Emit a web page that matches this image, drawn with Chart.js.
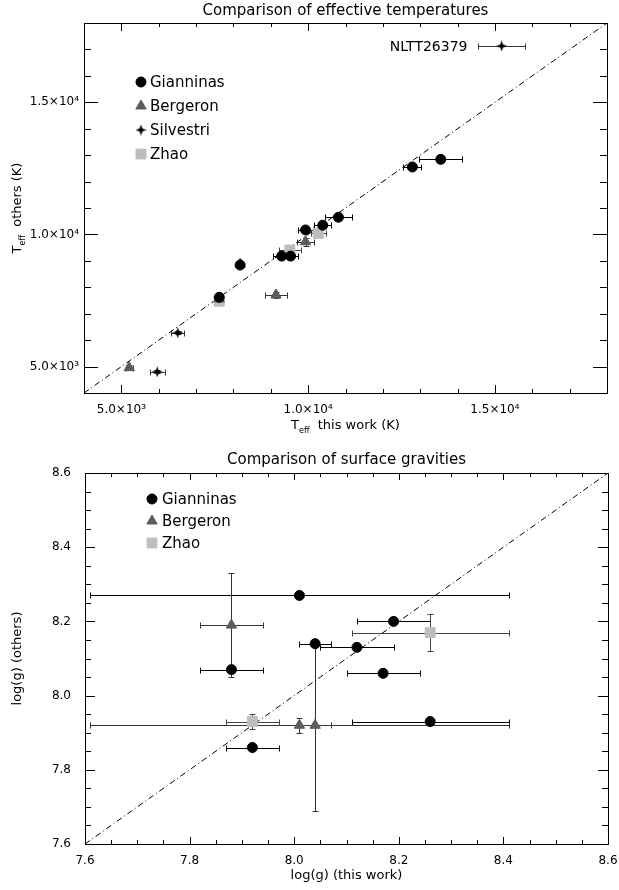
<!DOCTYPE html>
<html>
<head>
<meta charset="utf-8">
<script src="https://cdn.jsdelivr.net/npm/chart.js@4.4.0/dist/chart.umd.min.js"></script>
<style>
    html, body { margin: 0; padding: 0; background: #fff; }
    canvas { display: block; }
</style>
</head>
<body>
<canvas id="teffChart" width="619" height="445"></canvas>
<canvas id="loggChart" width="619" height="445"></canvas>
<script>
// ---- Effective temperatures (K) ----
const teffSeries = ['Gianninas', 'Bergeron', 'Silvestri', 'Zhao'];
const teffTicks = [5000, 10000, 15000];
const teffTickLabels = ['5.0×10³', '1.0×10⁴', '1.5×10⁴'];
const teffNote = 'NLTT26379';

const giaTeffX = [13550, 12790, 10810, 10390, 9930, 9290, 9530, 8180, 7620];
const giaTeffY = [12840, 12550, 10650, 10350, 10170, 9180, 9180, 8840, 7620];
const giaTeffErrX = [580, 240, 370, 220, 210, 240, 200, 0, 0];
const giaTeffErrY = [0, 0, 0, 0, 0, 0, 0, 0, 0];

const berTeffX = [9930, 9140, 8180, 7620, 5210];
const berTeffY = [9720, 7710, 8880, 7560, 4960];
const berTeffErrX = [230, 290, 0, 0, 90];
const berTeffErrY = [150, 100, 0, 0, 100];

const silTeffX = [15180, 6510, 5960];
const silTeffY = [17130, 6280, 4800];
const silTeffErrX = [620, 180, 200];
const silTeffErrY = [0, 60, 60];

const zhaoTeffX = [10270, 9510, 7620];
const zhaoTeffY = [10040, 9410, 7470];
const zhaoTeffErrX = [200, 300, 0];
const zhaoTeffErrY = [0, 0, 0];

// ---- Surface gravities log(g) ----
const loggSeries = ['Gianninas', 'Bergeron', 'Zhao'];
const loggTicks = [7.6, 7.8, 8.0, 8.2, 8.4, 8.6];
const loggTickLabels = ['7.6', '7.8', '8.0', '8.2', '8.4', '8.6'];

const giaLoggX = [8.01, 8.19, 8.04, 8.12, 7.88, 8.17, 8.26, 7.92];
const giaLoggY = [8.27, 8.20, 8.14, 8.13, 8.07, 8.06, 7.93, 7.86];
const giaLoggErrX = [0.40, 0.07, 0.03, 0.07, 0.06, 0.07, 0.15, 0.05];
const giaLoggErrY = [0, 0, 0, 0, 0, 0, 0, 0];

const berLoggX = [7.88, 8.01, 8.04];
const berLoggY = [8.19, 7.92, 7.92];
const berLoggErrX = [0.06, 0.40, 0.03];
const berLoggErrY = [0.14, 0.02, 0.23];

const zhaoLoggX = [8.26, 7.92];
const zhaoLoggY = [8.17, 7.93];
const zhaoLoggErrX = [0.15, 0.05];
const zhaoLoggErrY = [0.05, 0.02];

const FONT = '"DejaVu Sans", sans-serif';

function pts(xs, ys) {
    return xs.map((x, i) => ({ x: x, y: ys[i] }));
}

function makeStar(size) {
    const c = document.createElement('canvas');
    c.width = c.height = size;
    const g = c.getContext('2d');
    const m = size / 2, i = size * 0.13;
    g.beginPath();
    g.moveTo(m, 0);
    g.lineTo(m + i, m - i);
    g.lineTo(size, m);
    g.lineTo(m + i, m + i);
    g.lineTo(m, size);
    g.lineTo(m - i, m + i);
    g.lineTo(0, m);
    g.lineTo(m - i, m - i);
    g.closePath();
    g.fillStyle = '#000';
    g.fill();
    return c;
}
const starImg = makeStar(11);

// text with subscript parts: [[text, isSub], ...], centred on cx
function drawRich(ctx, parts, cx, cy, size) {
    const big = size + 'px ' + FONT;
    const small = Math.round(size * 0.62) + 'px ' + FONT;
    let w = 0;
    parts.forEach(p => { ctx.font = p[1] ? small : big; w += ctx.measureText(p[0]).width; });
    let x = cx - w / 2;
    ctx.textAlign = 'left';
    ctx.textBaseline = 'middle';
    parts.forEach(p => {
        ctx.font = p[1] ? small : big;
        ctx.fillText(p[0], x, cy + (p[1] ? size * 0.4 : 0));
        x += ctx.measureText(p[0]).width;
    });
}

function crisp(v) { return Math.round(v) + 0.5; }

const idlFrame = {
    id: 'idlFrame',
    beforeDatasetsDraw(chart, args, o) {
        const ctx = chart.ctx, xs = chart.scales.x, ys = chart.scales.y;
        const cap = 3;
        ctx.save();
        ctx.lineWidth = 1;
        chart.data.datasets.forEach(ds => {
            if (!ds.errX) return;
            ctx.strokeStyle = ds.errColor;
            ds.data.forEach((p, i) => {
                const px = crisp(xs.getPixelForValue(p.x));
                const py = crisp(ys.getPixelForValue(p.y));
                const ex = ds.errX[i], ey = ds.errY[i];
                ctx.beginPath();
                if (ex) {
                    const l = crisp(xs.getPixelForValue(p.x - ex));
                    const r = crisp(xs.getPixelForValue(p.x + ex));
                    ctx.moveTo(l, py); ctx.lineTo(r, py);
                    ctx.moveTo(l, py - cap); ctx.lineTo(l, py + cap);
                    ctx.moveTo(r, py - cap); ctx.lineTo(r, py + cap);
                }
                if (ey) {
                    const t = crisp(ys.getPixelForValue(p.y + ey));
                    const b = crisp(ys.getPixelForValue(p.y - ey));
                    ctx.moveTo(px, t); ctx.lineTo(px, b);
                    ctx.moveTo(px - cap, t); ctx.lineTo(px + cap, t);
                    ctx.moveTo(px - cap, b); ctx.lineTo(px + cap, b);
                }
                ctx.stroke();
            });
        });
        ctx.restore();
    },
    afterDraw(chart, args, o) {
        const ctx = chart.ctx, a = chart.chartArea;
        const xs = chart.scales.x, ys = chart.scales.y;
        ctx.save();
        ctx.strokeStyle = '#000';
        ctx.fillStyle = '#000';
        ctx.lineWidth = 1;
        ctx.strokeRect(crisp(a.left), crisp(a.top), Math.round(a.right - a.left), Math.round(a.bottom - a.top));

        // inward ticks on all four sides
        const isMajor = v => o.ticks.some(t => Math.abs(t - v) < o.minor / 100);
        ctx.beginPath();
        for (let k = 0; ; k++) {
            const v = o.min + k * o.minor;
            if (v > o.max + o.minor / 100) break;
            const big = isMajor(v);
            const px = crisp(xs.getPixelForValue(v));
            const lx = big ? o.xMajor : o.xMinor;
            ctx.moveTo(px, a.bottom); ctx.lineTo(px, a.bottom - lx);
            ctx.moveTo(px, a.top); ctx.lineTo(px, a.top + lx);
            const py = crisp(ys.getPixelForValue(v));
            const ly = big ? o.yMajor : o.yMinor;
            ctx.moveTo(a.left, py); ctx.lineTo(a.left + ly, py);
            ctx.moveTo(a.right, py); ctx.lineTo(a.right - ly, py);
        }
        ctx.stroke();

        // tick labels
        ctx.font = '12px ' + FONT;
        ctx.textBaseline = 'middle';
        ctx.textAlign = 'center';
        o.ticks.forEach((v, i) => ctx.fillText(o.labels[i], xs.getPixelForValue(v), a.bottom + o.xLabelGap));
        ctx.textAlign = 'right';
        o.ticks.forEach((v, i) => ctx.fillText(o.labels[i], a.left - o.yLabelGap, ys.getPixelForValue(v)));

        // titles
        ctx.font = '15px ' + FONT;
        ctx.textAlign = 'center';
        ctx.fillText(o.title, (a.left + a.right) / 2, o.titleY);
        drawRich(ctx, o.xTitle, (a.left + a.right) / 2, a.bottom + o.xTitleGap, 13);
        ctx.save();
        ctx.translate(o.yTitleX, (a.top + a.bottom) / 2);
        ctx.rotate(-Math.PI / 2);
        drawRich(ctx, o.yTitle, 0, 0, 13);
        ctx.restore();

        // legend
        o.legendNames.forEach((name, i) => {
            const ds = chart.data.datasets[i];
            const y = o.legendY + i * o.legendStep;
            ctx.fillStyle = ds.backgroundColor;
            ctx.strokeStyle = ds.borderColor;
            Chart.helpers.drawPoint(ctx, {
                pointStyle: ds.pointStyle, radius: ds.pointRadius, rotation: 0, borderWidth: ds.borderWidth
            }, o.legendX, y);
            ctx.fillStyle = '#000';
            ctx.font = '15px ' + FONT;
            ctx.textAlign = 'left';
            ctx.textBaseline = 'middle';
            ctx.fillText(name, o.legendX + o.legendTextGap, y + 1);
        });

        // annotation next to a point
        if (o.note) {
            const ds = chart.data.datasets[o.note.dataset];
            const p = ds.data[o.note.index];
            const lx = xs.getPixelForValue(p.x - ds.errX[o.note.index]);
            ctx.font = '14px ' + FONT;
            ctx.textAlign = 'right';
            ctx.fillText(o.note.text, lx - 11, ys.getPixelForValue(p.y) + 1);
        }
        ctx.restore();
    }
};

function makeChart(id, datasets, range, fit, frameOpts) {
    const diag = {
        type: 'line',
        data: [{ x: range[0], y: range[0] }, { x: range[1], y: range[1] }],
        borderColor: '#000',
        borderWidth: 1,
        borderDash: [6, 3, 1, 3],
        pointRadius: 0
    };
    return new Chart(document.getElementById(id), {
        type: 'scatter',
        data: { datasets: datasets.concat([diag]) },
        options: {
            responsive: false,
            animation: false,
            devicePixelRatio: 1,
            layout: { padding: fit.padding },
            plugins: { legend: { display: false }, tooltip: { enabled: false }, idlFrame: frameOpts },
            scales: {
                x: {
                    type: 'linear', min: range[0], max: range[1],
                    ticks: { display: false }, grid: { display: false }, border: { display: false },
                    afterFit: s => { s.height = fit.xHeight; }
                },
                y: {
                    type: 'linear', min: range[0], max: range[1],
                    ticks: { display: false }, grid: { display: false }, border: { display: false },
                    afterFit: s => { s.width = fit.yWidth; }
                }
            }
        },
        plugins: [idlFrame]
    });
}

function series(name, xs, ys, ex, ey, style) {
    return Object.assign({
        label: name,
        data: pts(xs, ys),
        errX: ex,
        errY: ey,
        borderWidth: 1
    }, style);
}

const giaStyle = { pointStyle: 'circle', pointRadius: 5, backgroundColor: '#000', borderColor: '#000', errColor: '#000' };
const berStyle = { pointStyle: 'triangle', pointRadius: 6, backgroundColor: '#5c5c5c', borderColor: '#5c5c5c', errColor: '#333' };
const silStyle = { pointStyle: starImg, pointRadius: 5, backgroundColor: '#000', borderColor: '#000', errColor: '#333' };
const zhaoStyle = { pointStyle: 'rect', pointRadius: 7, backgroundColor: '#bdbdbd', borderColor: '#bdbdbd', errColor: '#444' };

makeChart('teffChart', [
    series(teffSeries[0], giaTeffX, giaTeffY, giaTeffErrX, giaTeffErrY, giaStyle),
    series(teffSeries[1], berTeffX, berTeffY, berTeffErrX, berTeffErrY, berStyle),
    series(teffSeries[2], silTeffX, silTeffY, silTeffErrX, silTeffErrY, silStyle),
    series(teffSeries[3], zhaoTeffX, zhaoTeffY, zhaoTeffErrX, zhaoTeffErrY, zhaoStyle)
], [4000, 18000], { padding: { top: 23, right: 12, left: 0, bottom: 0 }, xHeight: 52, yWidth: 84 }, {
    min: 4000, max: 18000, minor: 1000, ticks: teffTicks, labels: teffTickLabels,
    xMajor: 8, xMinor: 4, yMajor: 14, yMinor: 7,
    xLabelGap: 17, yLabelGap: 5,
    title: 'Comparison of effective temperatures', titleY: 11,
    xTitle: [['T', false], ['eff', true], ['  this work (K)', false]], xTitleGap: 33,
    yTitle: [['T', false], ['eff', true], ['  others (K)', false]], yTitleX: 18,
    legendNames: teffSeries, legendX: 141, legendY: 82, legendStep: 24, legendTextGap: 9,
    note: { dataset: 2, index: 0, text: teffNote }
});

makeChart('loggChart', [
    series(loggSeries[0], giaLoggX, giaLoggY, giaLoggErrX, giaLoggErrY, giaStyle),
    series(loggSeries[1], berLoggX, berLoggY, berLoggErrX, berLoggErrY, berStyle),
    series(loggSeries[2], zhaoLoggX, zhaoLoggY, zhaoLoggErrX, zhaoLoggErrY, zhaoStyle)
], [7.6, 8.6], { padding: { top: 28, right: 11, left: 0, bottom: 0 }, xHeight: 46, yWidth: 85 }, {
    min: 7.6, max: 8.6, minor: 0.05, ticks: loggTicks, labels: loggTickLabels,
    xMajor: 7, xMinor: 4, yMajor: 10, yMinor: 6,
    xLabelGap: 17, yLabelGap: 14,
    title: 'Comparison of surface gravities', titleY: 15,
    xTitle: [['log(g) (this work)', false]], xTitleGap: 32,
    yTitle: [['log(g) (others)', false]], yTitleX: 18,
    legendNames: loggSeries, legendX: 152, legendY: 54, legendStep: 22, legendTextGap: 10,
    note: null
});
</script>
</body>
</html>
